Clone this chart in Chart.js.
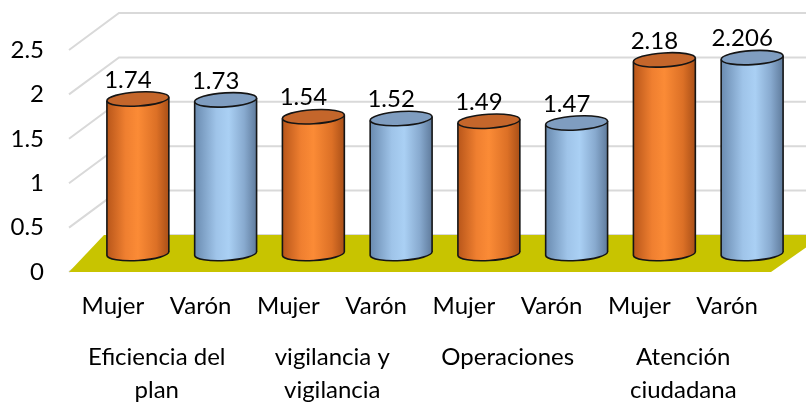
<!DOCTYPE html>
<html><head><meta charset="utf-8">
<script src="https://cdn.jsdelivr.net/npm/chart.js@4.4.0/dist/chart.umd.min.js"></script>
<style>html,body{margin:0;padding:0;background:#fff;overflow:hidden}</style>
</head><body>
<canvas id="c" width="806" height="402"></canvas>
<script>
// ---- data ----
const groups = [["Eficiencia del","plan"],["vigilancia y","vigilancia"],"Operaciones",["Atención","ciudadana"]];
const seriesNames = ["Mujer","Varón"];
const mujer = [1.74, 1.54, 1.49, 2.18];
const varon = [1.73, 1.52, 1.47, 2.206];
const yTicks = [0, 0.5, 1, 1.5, 2, 2.5];

const labels = [], values = [], kinds = [];
groups.forEach((g, i) => {
  labels.push(seriesNames[0]); values.push(mujer[i]); kinds.push(0);
  labels.push(seriesNames[1]); values.push(varon[i]); kinds.push(1);
});

// ---- 3D styling ----
const DX = 50, DY = -37;        // back wall offset
const MX = 25, MY = -18.5;      // mid-depth offset (cylinder axis)
const FLOOR_L = 35, FLOOR_R = 53;
const FONT = 'Lato';
const palettes = [
  {stops:[[0,'#b8561a'],[0.3,'#ef7f30'],[0.5,'#fb8b36'],[0.8,'#dc7026'],[1,'#a94f17']], top:'#c4662b'},
  {stops:[[0,'#6a8bb0'],[0.35,'#9fc4e9'],[0.55,'#aad0f4'],[0.8,'#88aacf'],[1,'#5f7b9c']], top:'#7f9dc0'}
];

function cylinder(ctx, cx, top, base, rx, ry, rot, pal) {
  const cr = Math.cos(rot), sr = Math.sin(rot);
  const lx = cx - rx * cr, ly = -rx * sr;
  const rX = cx + rx * cr, rY = rx * sr;
  const g = ctx.createLinearGradient(cx - rx, 0, cx + rx, 0);
  pal.stops.forEach(s => g.addColorStop(s[0], s[1]));
  ctx.beginPath();
  ctx.moveTo(lx, top + ly);
  ctx.lineTo(lx, base + ly);
  ctx.ellipse(cx, base, rx, ry, rot, Math.PI, 0, true);
  ctx.lineTo(rX, top + rY);
  ctx.ellipse(cx, top, rx, ry, rot, 0, Math.PI, false);
  ctx.closePath();
  ctx.fillStyle = g; ctx.fill();
  ctx.strokeStyle = '#151515'; ctx.lineWidth = 1.6;
  ctx.beginPath();
  ctx.moveTo(lx, top + ly);
  ctx.lineTo(lx, base + ly);
  ctx.ellipse(cx, base, rx, ry, rot, Math.PI, 0, true);
  ctx.lineTo(rX, top + rY);
  ctx.stroke();
  ctx.beginPath();
  ctx.ellipse(cx, top, rx, ry, rot, 0, Math.PI * 2);
  ctx.fillStyle = pal.top; ctx.fill();
  ctx.stroke();
}

const plugin3d = {
  id: 'cyl3d',
  beforeDatasetsDraw(chart) {
    const {ctx, chartArea: a} = chart;
    const y = chart.scales.y;
    ctx.save();
    ctx.strokeStyle = '#d9d9d9'; ctx.lineWidth = 2;
    yTicks.forEach(v => {
      const py = y.getPixelForValue(v);
      ctx.beginPath();
      ctx.moveTo(a.left, py);
      ctx.lineTo(a.left + DX, py + DY);
      ctx.lineTo(chart.width + 10, py + DY);
      ctx.stroke();
    });
    const y0 = y.getPixelForValue(0);
    ctx.fillStyle = '#c8c400';
    ctx.beginPath();
    ctx.moveTo(a.left, y0);
    ctx.lineTo(a.left + FLOOR_L, y0 + DY);
    ctx.lineTo(a.right + FLOOR_R, y0 + DY);
    ctx.lineTo(a.right, y0);
    ctx.closePath(); ctx.fill();
    ctx.restore();
  },
  afterDatasetsDraw(chart) {
    const {ctx} = chart;
    const meta = chart.getDatasetMeta(0);
    ctx.save();
    meta.data.forEach((el, i) => {
      const p = el.getProps(['x', 'y', 'base', 'width'], true);
      const cx = p.x + MX, top = p.y + MY, base = p.base + MY;
      cylinder(ctx, cx, top, base, p.width / 2, 7, -0.06, palettes[kinds[i]]);
      ctx.fillStyle = '#000';
      ctx.font = '24px ' + FONT;
      ctx.textAlign = 'center'; ctx.textBaseline = 'middle';
      ctx.fillText(String(values[i]), p.x + 15, top - 19);
    });
    ctx.restore();
  }
};

new Chart(document.getElementById('c'), {
  type: 'bar',
  data: {labels, datasets: [{data: values, backgroundColor: 'rgba(0,0,0,0)', borderWidth: 0, barPercentage: 0.707, categoryPercentage: 1}]},
  options: {
    responsive: false, animation: false, devicePixelRatio: 1,
    layout: {padding: {top: 50, right: 35, left: 0, bottom: 0}},
    plugins: {legend: {display: false}, tooltip: {enabled: false}},
    scales: {
      x: {type: 'category', position: 'bottom', weight: 0,
          grid: {display: false, drawTicks: false}, border: {display: false},
          ticks: {font: {family: FONT, size: 24}, color: '#000', padding: 20, maxRotation: 0, autoSkip: false},
          afterFit(s) { s.height = 49; }},
      x2: {type: 'category', position: 'bottom', weight: 1, labels: groups, offset: true,
          grid: {display: false, drawTicks: false}, border: {display: false},
          ticks: {font: {family: FONT, size: 24, lineHeight: 1.375}, color: '#000', padding: 20, maxRotation: 0, autoSkip: false},
          afterFit(s) { s.height = 81; }},
      y: {min: 0, max: 2.5,
          grid: {display: false, drawTicks: false}, border: {display: false},
          ticks: {stepSize: 0.5, font: {family: FONT, size: 24}, color: '#000', padding: 25,
                  callback: v => String(v)},
          afterFit(s) { s.width = 69; }}
    }
  },
  plugins: [plugin3d]
});
</script>
</body></html>
